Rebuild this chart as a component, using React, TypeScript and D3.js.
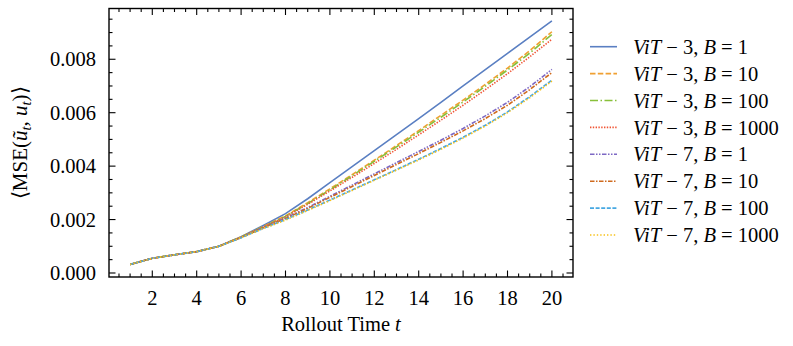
import React from "react";
import * as d3 from "d3";

const steps = d3.range(1, 21);
const vit3B1 = [0.00032, 0.00055, 0.00068, 0.0008, 0.001, 0.00136, 0.00178, 0.00222, 0.00278, 0.00338, 0.00398, 0.00458, 0.00518, 0.00578, 0.00639, 0.007, 0.00761, 0.00822, 0.00883, 0.00944];
const vit3B10 = [0.00032, 0.00055, 0.00068, 0.0008, 0.001, 0.00135, 0.00174, 0.00214, 0.00263, 0.00315, 0.00368, 0.00422, 0.00477, 0.00533, 0.0059, 0.00647, 0.00706, 0.00767, 0.00832, 0.00903];
const vit3B100 = [0.00032, 0.00055, 0.00068, 0.0008, 0.001, 0.00135, 0.00173, 0.00212, 0.0026, 0.00311, 0.00364, 0.00418, 0.00472, 0.00527, 0.00583, 0.0064, 0.00699, 0.0076, 0.00823, 0.00893];
const vit3B1000 = [0.00032, 0.00055, 0.00068, 0.0008, 0.001, 0.00134, 0.00172, 0.0021, 0.00257, 0.00307, 0.00358, 0.0041, 0.00463, 0.00517, 0.00572, 0.00628, 0.00686, 0.00746, 0.00809, 0.00875];
const vit7B1 = [0.00032, 0.00055, 0.00068, 0.0008, 0.001, 0.00133, 0.0017, 0.00206, 0.00245, 0.00287, 0.00329, 0.00371, 0.00413, 0.00455, 0.00497, 0.00541, 0.00588, 0.00639, 0.00697, 0.00762];
const vit7B10 = [0.00032, 0.00055, 0.00068, 0.0008, 0.001, 0.00133, 0.00169, 0.00204, 0.00242, 0.00283, 0.00324, 0.00365, 0.00406, 0.00447, 0.00489, 0.00532, 0.00578, 0.00628, 0.00686, 0.0075];
const vit7B100 = [0.00032, 0.00055, 0.00068, 0.0008, 0.001, 0.00132, 0.00167, 0.002, 0.00236, 0.00273, 0.00311, 0.00349, 0.00387, 0.00426, 0.00466, 0.00508, 0.00553, 0.00603, 0.0066, 0.00722];
const vit7B1000 = [0.00032, 0.00055, 0.00068, 0.0008, 0.001, 0.00132, 0.00166, 0.00198, 0.00234, 0.00271, 0.00309, 0.00347, 0.00385, 0.00423, 0.00463, 0.00505, 0.0055, 0.006, 0.00656, 0.00718];

const modelLabels = ["3", "3", "3", "3", "7", "7", "7", "7"];
const batchLabels = ["1", "10", "100", "1000", "1", "10", "100", "1000"];
const seriesValues = [vit3B1, vit3B10, vit3B100, vit3B1000, vit7B1, vit7B10, vit7B100, vit7B1000];
const colors = ["#5a7fc2", "#f0a032", "#88c03a", "#f05534", "#7d68c4", "#cf6a1e", "#46a8e2", "#f7c118"];
const dashes = ["none", "5.5,2.3", "8,2.5,1.5,2.5", "1.4,1.4", "4.5,1.5,1.5,1.5,1.5,1.5", "4.5,1.5,1.5,1.5", "4,1.6", "1.4,2"];

const xTicks = [2, 4, 6, 8, 10, 12, 14, 16, 18, 20];
const yTicks = [0, 0.002, 0.004, 0.006, 0.008];

const W = 793, H = 346;
const L = 109, R = 573, T = 8.5, B = 277;
const FONT = "'Liberation Serif', serif";
const FS = 20.5;
const txt = { fontFamily: FONT, fontSize: FS } as React.CSSProperties;

export default function App() {
  const x = d3.scaleLinear().domain([0.05, 20.95]).range([L, R]);
  const y = d3.scaleLinear().domain([-0.00015, 0.0099]).range([B, T]);
  const line = d3.line<number>().x((_, i) => x(steps[i])).y((d) => y(d));
  const xMinor = d3.range(0.5, 21, 0.5).filter((v) => x(v) > L + 1 && x(v) < R - 1 && v % 2 !== 0);
  const yMinor = d3.range(0, 0.0099, 0.0005).filter((v) => Math.abs(v / 0.002 - Math.round(v / 0.002)) > 1e-6);
  const maj = 6.5, mn = 3.5;
  const legX = 590, legY0 = 46.7, legDy = 26.9;

  return (
    <svg width={W} height={H} style={{ position: "absolute", left: 0, top: 0, background: "#fff" }}>
      <defs>
        <clipPath id="plot">
          <rect x={L} y={T} width={R - L} height={B - T} />
        </clipPath>
      </defs>
      <g clipPath="url(#plot)">
        {seriesValues.map((vals, i) => (
          <path key={i} d={line(vals) || ""} fill="none" stroke={colors[i]} strokeWidth={1.6}
            strokeDasharray={dashes[i]} />
        ))}
      </g>
      <g stroke="#000" strokeWidth={1.1}>
        {xTicks.map((t) => (
          <g key={"xt" + t}>
            <line x1={x(t)} x2={x(t)} y1={B} y2={B - maj} />
            <line x1={x(t)} x2={x(t)} y1={T} y2={T + maj} />
          </g>
        ))}
        {xMinor.map((t) => (
          <g key={"xm" + t}>
            <line x1={x(t)} x2={x(t)} y1={B} y2={B - mn} />
            <line x1={x(t)} x2={x(t)} y1={T} y2={T + mn} />
          </g>
        ))}
        {yTicks.map((t) => (
          <g key={"yt" + t}>
            <line x1={L} x2={L + maj} y1={y(t)} y2={y(t)} />
            <line x1={R} x2={R - maj} y1={y(t)} y2={y(t)} />
          </g>
        ))}
        {yMinor.map((t) => (
          <g key={"ym" + t}>
            <line x1={L} x2={L + mn} y1={y(t)} y2={y(t)} />
            <line x1={R} x2={R - mn} y1={y(t)} y2={y(t)} />
          </g>
        ))}
      </g>
      <rect x={L} y={T} width={R - L} height={B - T} fill="none" stroke="#000" strokeWidth={1.4} />
      {xTicks.map((t) => (
        <text key={"xl" + t} x={x(t)} y={305} textAnchor="middle" style={txt}>{t}</text>
      ))}
      {yTicks.map((t) => (
        <text key={"yl" + t} x={96} y={y(t)} dy="0.35em" textAnchor="end" style={txt}>{t.toFixed(3)}</text>
      ))}
      <text x={(L + R) / 2} y={331} textAnchor="middle" style={txt}>
        Rollout Time <tspan fontStyle="italic">t</tspan>
      </text>
      <text transform={`translate(27,${(T + B) / 2}) rotate(-90)`} textAnchor="middle" style={{ fontFamily: FONT, fontSize: 21 }}>
        ⟨MSE(<tspan fontStyle="italic">ũ</tspan>
        <tspan fontStyle="italic" style={{ fontSize: 14.5 }} dy={4}>t</tspan>
        <tspan dy={-4}>, </tspan>
        <tspan fontStyle="italic">u</tspan>
        <tspan fontStyle="italic" style={{ fontSize: 14.5 }} dy={4}>t</tspan>
        <tspan dy={-4}>)⟩</tspan>
      </text>
      {seriesValues.map((_, i) => {
        const ly = legY0 + i * legDy;
        return (
          <g key={"lg" + i}>
            <line x1={legX} x2={legX + 27} y1={ly} y2={ly} stroke={colors[i]} strokeWidth={1.6}
              strokeDasharray={dashes[i]} />
            <text x={633} y={ly} dy="0.35em" style={txt}>
              <tspan fontStyle="italic">ViT</tspan>
              <tspan> − {modelLabels[i]}, </tspan>
              <tspan fontStyle="italic">B</tspan>
              <tspan> = {batchLabels[i]}</tspan>
            </text>
          </g>
        );
      })}
    </svg>
  );
}
